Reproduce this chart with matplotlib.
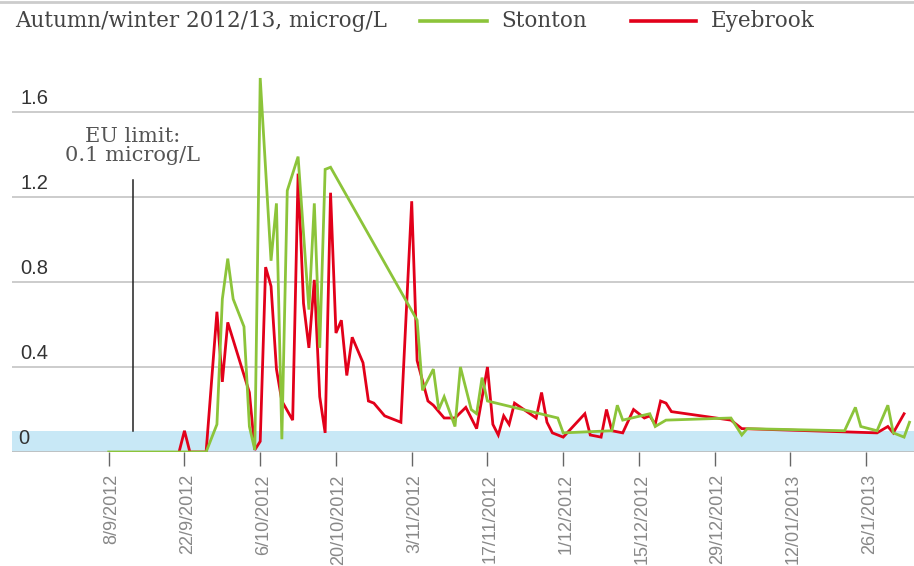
import matplotlib
matplotlib.use("Agg")
from matplotlib import pyplot as plt
from matplotlib.lines import Line2D
import matplotlib.transforms as mtransforms
import pandas as pd

# Stonton readings (microg/L)
stonton_dates = ["2012-09-08", "2012-09-26", "2012-09-28", "2012-09-29", "2012-09-30",
                 "2012-10-01", "2012-10-03", "2012-10-04", "2012-10-05", "2012-10-06",
                 "2012-10-08", "2012-10-09", "2012-10-10", "2012-10-11", "2012-10-13",
                 "2012-10-15", "2012-10-16", "2012-10-17", "2012-10-18", "2012-10-19",
                 "2012-11-04", "2012-11-05", "2012-11-07", "2012-11-08", "2012-11-09",
                 "2012-11-11", "2012-11-12", "2012-11-14", "2012-11-15", "2012-11-16",
                 "2012-11-17", "2012-11-30", "2012-12-01", "2012-12-10", "2012-12-11",
                 "2012-12-12", "2012-12-17", "2012-12-18", "2012-12-20", "2013-01-01",
                 "2013-01-03", "2013-01-04", "2013-01-22", "2013-01-24", "2013-01-25",
                 "2013-01-28", "2013-01-30", "2013-01-31", "2013-02-02", "2013-02-03"]
stonton_vals = [0.0, 0.0, 0.13, 0.72, 0.91,
                0.72, 0.59, 0.12, 0.01, 1.76,
                0.90, 1.17, 0.06, 1.23, 1.39,
                0.67, 1.17, 0.49, 1.33, 1.34,
                0.62, 0.29, 0.39, 0.20, 0.26,
                0.12, 0.40, 0.20, 0.18, 0.35,
                0.24, 0.16, 0.09, 0.10, 0.22,
                0.15, 0.18, 0.12, 0.15, 0.16,
                0.08, 0.11, 0.10, 0.21, 0.12,
                0.10, 0.22, 0.09, 0.07, 0.14]

# Eyebrook readings (microg/L)
eyebrook_dates = ["2012-09-21", "2012-09-22", "2012-09-23", "2012-09-26", "2012-09-28",
                  "2012-09-29", "2012-09-30", "2012-10-04", "2012-10-05", "2012-10-06",
                  "2012-10-07", "2012-10-08", "2012-10-09", "2012-10-10", "2012-10-12",
                  "2012-10-13", "2012-10-14", "2012-10-15", "2012-10-16", "2012-10-17",
                  "2012-10-18", "2012-10-19", "2012-10-20", "2012-10-21", "2012-10-22",
                  "2012-10-23", "2012-10-25", "2012-10-26", "2012-10-27", "2012-10-29",
                  "2012-11-01", "2012-11-03", "2012-11-04", "2012-11-06", "2012-11-07",
                  "2012-11-09", "2012-11-11", "2012-11-13", "2012-11-15", "2012-11-17",
                  "2012-11-18", "2012-11-19", "2012-11-20", "2012-11-21", "2012-11-22",
                  "2012-11-26", "2012-11-27", "2012-11-28", "2012-11-29", "2012-12-01",
                  "2012-12-05", "2012-12-06", "2012-12-08", "2012-12-09", "2012-12-10",
                  "2012-12-12", "2012-12-14", "2012-12-16", "2012-12-17", "2012-12-18",
                  "2012-12-19", "2012-12-20", "2012-12-21", "2013-01-01", "2013-01-03",
                  "2013-01-28", "2013-01-30", "2013-01-31", "2013-02-02"]
eyebrook_vals = [0.0, 0.10, 0.0, 0.0, 0.66,
                 0.33, 0.61, 0.28, 0.01, 0.05,
                 0.87, 0.78, 0.39, 0.24, 0.15,
                 1.31, 0.70, 0.49, 0.81, 0.26,
                 0.09, 1.22, 0.56, 0.62, 0.36,
                 0.54, 0.42, 0.24, 0.23, 0.17,
                 0.14, 1.18, 0.43, 0.24, 0.22,
                 0.16, 0.16, 0.21, 0.11, 0.40,
                 0.13, 0.08, 0.17, 0.13, 0.23,
                 0.16, 0.28, 0.14, 0.09, 0.07,
                 0.18, 0.08, 0.07, 0.20, 0.10,
                 0.09, 0.20, 0.16, 0.17, 0.13,
                 0.24, 0.23, 0.19, 0.15, 0.11,
                 0.09, 0.12, 0.09, 0.18]

tick_dates = ["2012-09-08", "2012-09-22", "2012-10-06", "2012-10-20", "2012-11-03",
              "2012-11-17", "2012-12-01", "2012-12-15", "2012-12-29", "2013-01-12",
              "2013-01-26"]
tick_labels = ["8/9/2012", "22/9/2012", "6/10/2012", "20/10/2012", "3/11/2012",
               "17/11/2012", "1/12/2012", "15/12/2012", "29/12/2012", "12/01/2013",
               "26/1/2013"]
y_grid = [0.4, 0.8, 1.2, 1.6]
y_labels = ["0", "0.4", "0.8", "1.2", "1.6"]
eu_limit = 0.1
eu_label_date = "2012-09-12 10:00"

GREEN = "#8cc43a"
RED = "#e2001a"
BLUE = "#c8e8f6"
SERIF = "DejaVu Serif"
SANS = "Liberation Sans"

fig = plt.figure(figsize=(9.14, 5.66), dpi=100)
ax = fig.add_axes([12 / 914, 114 / 566, 902 / 914, 382.5 / 566])

s_x = pd.to_datetime(stonton_dates)
e_x = pd.to_datetime(eyebrook_dates)

ax.axhspan(0, eu_limit, color=BLUE, zorder=0, lw=0)
for v in y_grid:
    ax.axhline(v, color="#cccccc", lw=1.4, zorder=1)
ax.axhline(0, color="#bbbbbb", lw=1.2, zorder=1)

ax.plot(e_x, eyebrook_vals, color=RED, lw=2.0, zorder=3, solid_joinstyle="miter")
ax.plot(s_x, stonton_vals, color=GREEN, lw=2.0, zorder=4, solid_joinstyle="miter")

# EU limit marker
eu_x = pd.Timestamp(eu_label_date)
ax.plot([eu_x, eu_x], [eu_limit, 1.28], color="#222222", lw=1.1, zorder=2)
ax.text(eu_x, 1.44, "EU limit:\n0.1 microg/L", ha="center", va="center",
        fontsize=15, family=SERIF, color="#555555", linespacing=0.95)

ax.set_ylim(0, 1.8)
ax.set_xlim(pd.Timestamp("2012-08-21 03:00"), pd.Timestamp("2013-02-03 20:00"))

ax.set_yticks([])
ax.set_xticks(pd.to_datetime(tick_dates))
ax.set_xticklabels(tick_labels, rotation=90, fontsize=13, color="#888888",
                   family=SANS, va="top", ha="center")
ax.tick_params(axis="x", length=10, width=1, color="#666666", pad=6)
offset = mtransforms.ScaledTranslation(3 / 100, 0, fig.dpi_scale_trans)
for lab in ax.get_xticklabels():
    lab.set_transform(lab.get_transform() + offset)

trans = mtransforms.blended_transform_factory(ax.transAxes, ax.transData)
for v, lab in zip([0.0] + y_grid, y_labels):
    ax.text(0.007 if lab == "0" else 0.009, v + 0.062, lab, transform=trans,
            fontsize=14.5, color="#333333", family=SANS,
            va="center", ha="left")

for s in ax.spines.values():
    s.set_visible(False)

# header
fig.add_artist(Line2D([0, 1], [1 - 2 / 566, 1 - 2 / 566], color="#cccccc", lw=2))
fig.text(15 / 914, 1 - 21 / 566, "Autumn/winter 2012/13, microg/L", fontsize=15.5,
         family=SERIF, color="#444444", va="center", ha="left")
fig.add_artist(Line2D([420 / 914, 487 / 914], [1 - 21 / 566] * 2, color=GREEN, lw=2.6))
fig.text(501 / 914, 1 - 21 / 566, "Stonton", fontsize=15.5, family=SERIF,
         color="#444444", va="center", ha="left")
fig.add_artist(Line2D([631 / 914, 696 / 914], [1 - 21 / 566] * 2, color=RED, lw=2.6))
fig.text(711 / 914, 1 - 21 / 566, "Eyebrook", fontsize=15.5, family=SERIF,
         color="#444444", va="center", ha="left")

fig.savefig("out.png", dpi=100)
